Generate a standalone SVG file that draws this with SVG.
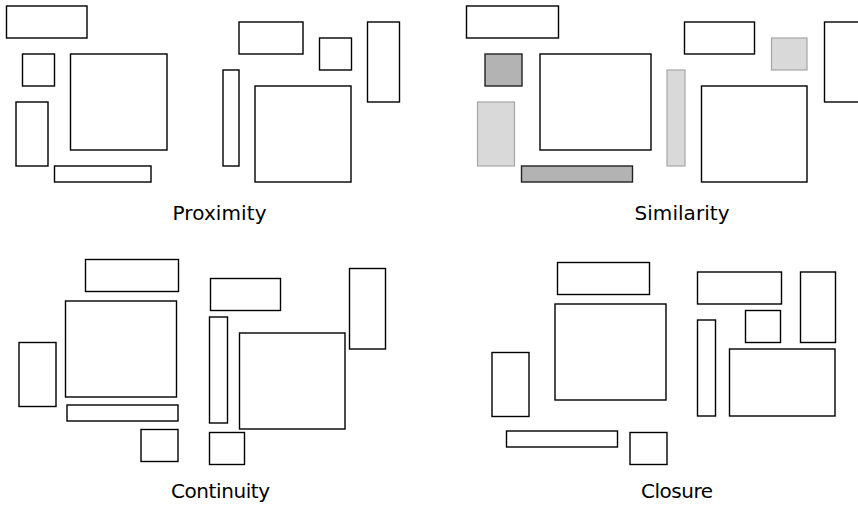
<svg xmlns="http://www.w3.org/2000/svg" width="858" height="507" viewBox="0 0 858 507">
<style>
.b{fill:#fff;stroke:#000;stroke-width:1.4}
.d{fill:#b3b3b3;stroke:#222;stroke-width:1.4}
.l{fill:#d9d9d9;stroke:#a6a6a6;stroke-width:1.2}
.t{font-family:"DejaVu Sans",sans-serif;font-size:20px;fill:#000;text-anchor:middle}
</style>
<rect width="858" height="507" fill="#fff"/>
<g id="proximity">
<rect class="b" x="6.5" y="6" width="80.5" height="32"/>
<rect class="b" x="22.5" y="54" width="32" height="32"/>
<rect class="b" x="70.5" y="54" width="96.5" height="96"/>
<rect class="b" x="16" y="102" width="32" height="64"/>
<rect class="b" x="54.5" y="166" width="96.5" height="16"/>
<rect class="b" x="239" y="22" width="64" height="32"/>
<rect class="b" x="319.5" y="38" width="32" height="32"/>
<rect class="b" x="367.5" y="22" width="32" height="80"/>
<rect class="b" x="223" y="70" width="16" height="96"/>
<rect class="b" x="255" y="86" width="96" height="96"/>
<text class="t" x="219.5" y="220" textLength="94">Proximity</text>
</g>
<g id="similarity">
<rect class="b" x="466.5" y="6" width="92" height="32"/>
<rect class="d" x="485" y="54" width="37" height="32"/>
<rect class="b" x="540" y="54" width="111" height="96"/>
<rect class="l" x="477.5" y="102" width="37" height="64"/>
<rect class="d" x="521.5" y="166" width="111" height="16"/>
<rect class="l" x="667" y="70" width="18" height="96"/>
<rect class="b" x="684.5" y="22" width="70" height="32"/>
<rect class="l" x="771.5" y="38" width="35.5" height="32"/>
<rect class="b" x="701.5" y="86" width="105.5" height="96"/>
<rect class="b" x="824.5" y="22" width="40" height="80"/>
<text class="t" x="682" y="220" textLength="95">Similarity</text>
</g>
<g id="continuity">
<rect class="b" x="85.5" y="259.5" width="93" height="32"/>
<rect class="b" x="65.5" y="301" width="111" height="96"/>
<rect class="b" x="19" y="342.5" width="37" height="64"/>
<rect class="b" x="67" y="405" width="111" height="16"/>
<rect class="b" x="141" y="429.5" width="37" height="32"/>
<rect class="b" x="210.5" y="278.5" width="70" height="32"/>
<rect class="b" x="209.5" y="317" width="18" height="106"/>
<rect class="b" x="209.5" y="432.5" width="35" height="32"/>
<rect class="b" x="239.5" y="333" width="105.5" height="96"/>
<rect class="b" x="349.5" y="268.5" width="36" height="80.5"/>
<text class="t" x="220.5" y="498" textLength="99">Continuity</text>
</g>
<g id="closure">
<rect class="b" x="557.5" y="262.5" width="92" height="32"/>
<rect class="b" x="555" y="304" width="111" height="96"/>
<rect class="b" x="492" y="352.5" width="37" height="64"/>
<rect class="b" x="506.5" y="431" width="111" height="16"/>
<rect class="b" x="630" y="432.5" width="37" height="32"/>
<rect class="b" x="697.5" y="272" width="84" height="32"/>
<rect class="b" x="697.5" y="320" width="18" height="96"/>
<rect class="b" x="745.5" y="310.5" width="35" height="32"/>
<rect class="b" x="800.5" y="272" width="35" height="70.5"/>
<rect class="b" x="729.5" y="349" width="105.5" height="67"/>
<text class="t" x="677" y="498" textLength="72">Closure</text>
</g>
<g id="connectors"/>
</svg>
